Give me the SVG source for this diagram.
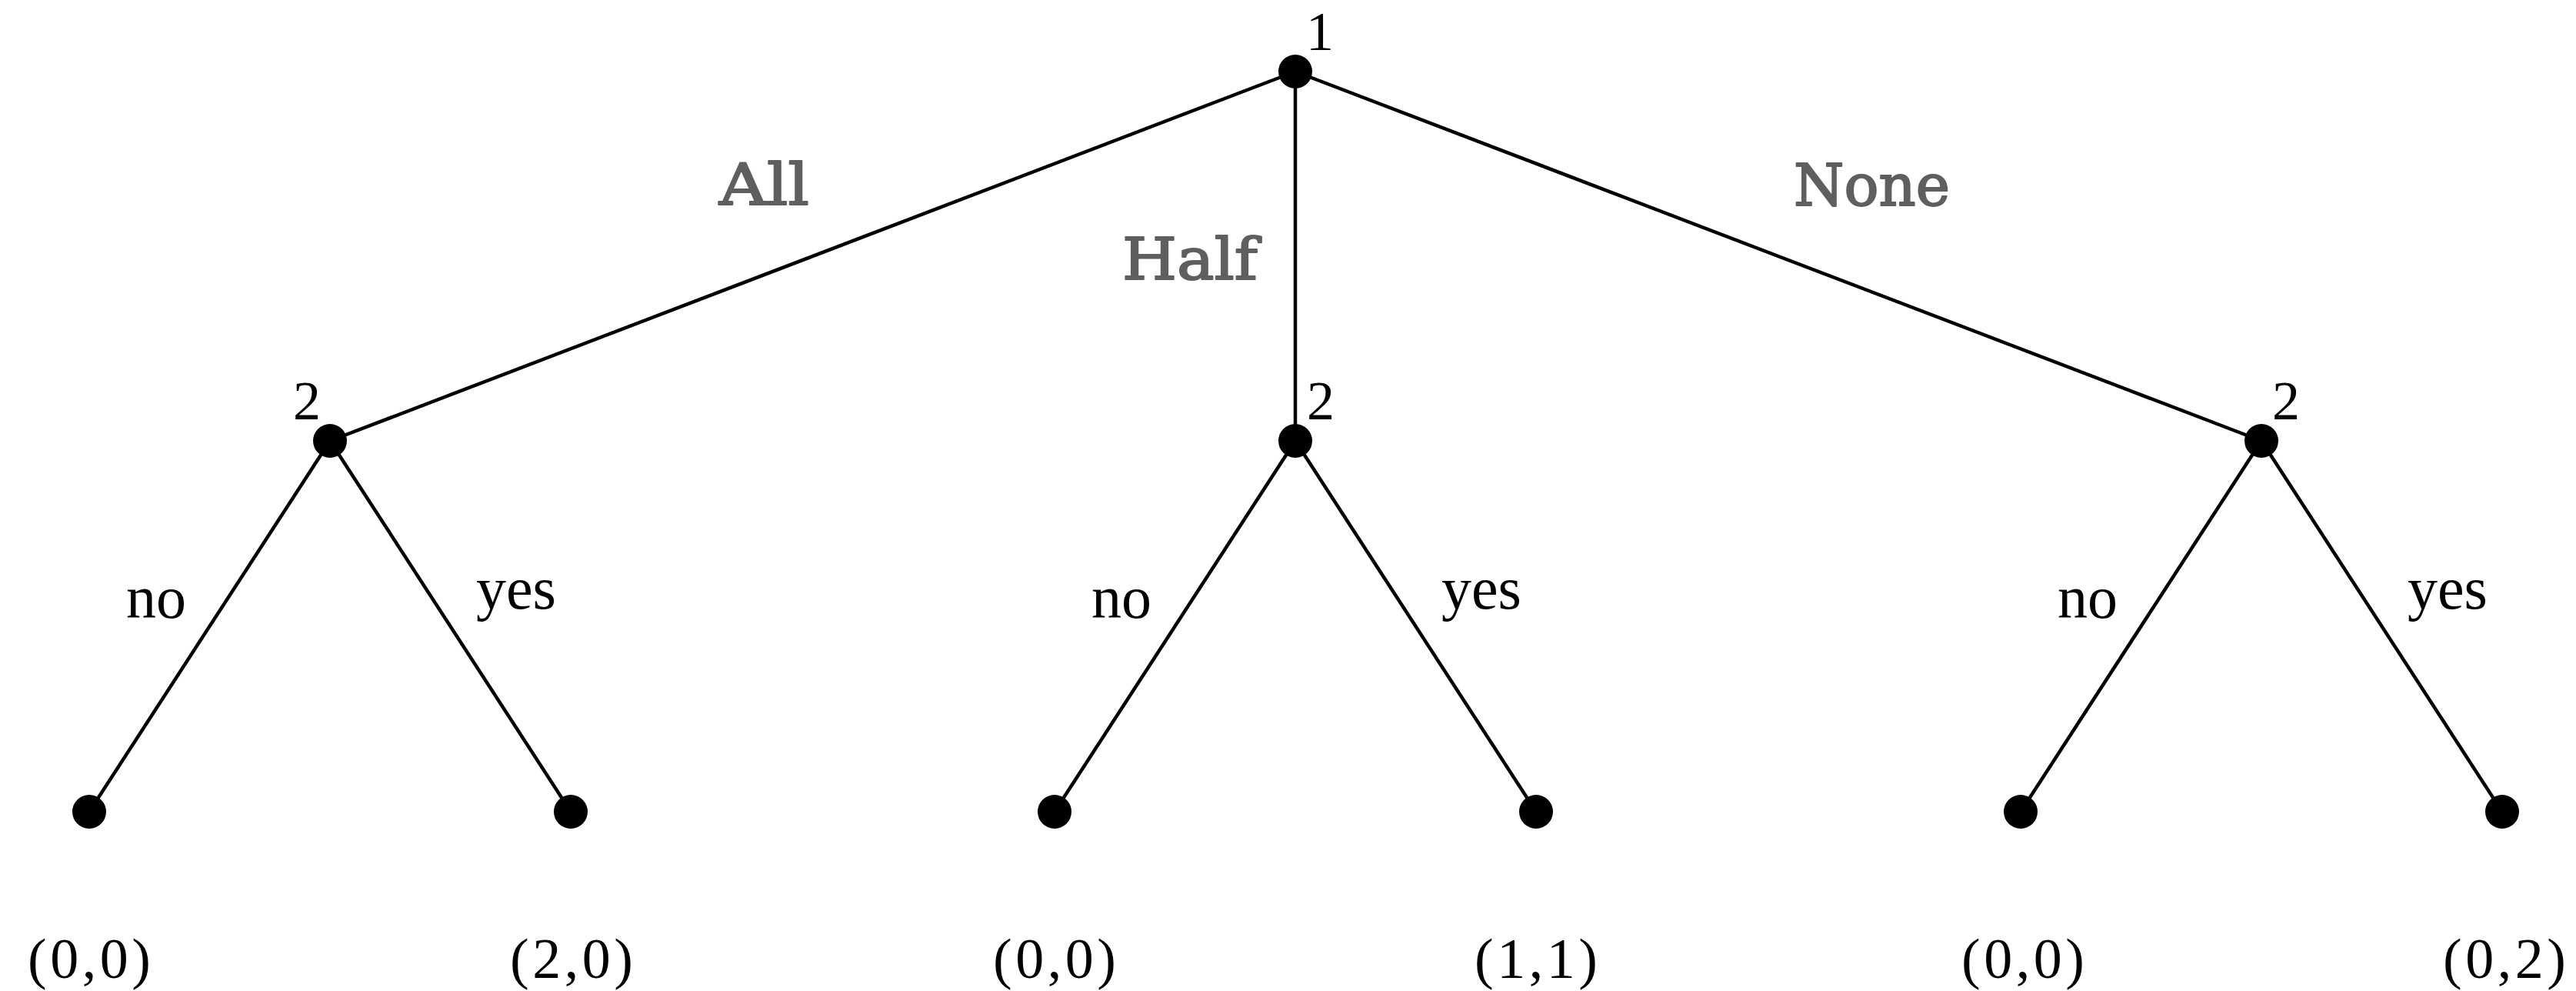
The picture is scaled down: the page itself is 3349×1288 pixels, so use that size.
<svg xmlns="http://www.w3.org/2000/svg" width="3349" height="1288" viewBox="0 0 3349 1288">
<style>
.e{stroke:#000;stroke-width:4.5;fill:none}
.n{fill:#000}
.t{font-family:"Liberation Serif",serif;font-size:72px;fill:#000}
.b{font-family:"Liberation Serif",serif;font-size:78px;fill:#000}
.g{font-family:"DejaVu Serif",serif;font-size:74px;fill:#5f5f5f;stroke:#5f5f5f;stroke-width:2;stroke-linejoin:round}
.p{font-family:"Liberation Serif",serif;font-size:74px;fill:#000;text-anchor:middle}
</style>
<rect width="3349" height="1288" fill="#fff"/>
<g id="connectors">
<line class="e" x1="1684" y1="93" x2="429" y2="573"/>
<line class="e" x1="1684" y1="93" x2="1684" y2="573"/>
<line class="e" x1="1684" y1="93" x2="2940" y2="573"/>
<line class="e" x1="429" y1="573" x2="116" y2="1055"/>
<line class="e" x1="429" y1="573" x2="742" y2="1055"/>
<line class="e" x1="1684" y1="573" x2="1371" y2="1055"/>
<line class="e" x1="1684" y1="573" x2="1997" y2="1055"/>
<line class="e" x1="2940" y1="573" x2="2627" y2="1055"/>
<line class="e" x1="2940" y1="573" x2="3253" y2="1055"/>
<text class="g" x="935" y="266" textLength="117" lengthAdjust="spacingAndGlyphs">All</text>
<text class="g" x="1459" y="363" textLength="176" lengthAdjust="spacingAndGlyphs">Half</text>
<text class="g" x="2332" y="267" textLength="203" lengthAdjust="spacingAndGlyphs">None</text>
<text class="b" x="164" y="803">no</text>
<text class="b" x="619" y="791">yes</text>
<text class="b" x="1419" y="803">no</text>
<text class="b" x="1874" y="791">yes</text>
<text class="b" x="2675" y="803">no</text>
<text class="b" x="3130" y="791">yes</text>
</g>
<g id="root">
<circle class="n" cx="1684" cy="93" r="22"/>
<text class="t" x="1698" y="65">1</text>
</g>
<g id="p2-all">
<circle class="n" cx="429" cy="573" r="22"/>
<text class="t" x="399" y="545" text-anchor="middle">2</text>
</g>
<g id="p2-half">
<circle class="n" cx="1684" cy="573" r="22"/>
<text class="t" x="1717" y="545" text-anchor="middle">2</text>
</g>
<g id="p2-none">
<circle class="n" cx="2940" cy="573" r="22"/>
<text class="t" x="2972" y="545" text-anchor="middle">2</text>
</g>
<g id="leaf1">
<circle class="n" cx="116" cy="1055" r="22"/>
<text class="p" x="116" y="1271" textLength="160" lengthAdjust="spacing">(0,0)</text>
</g>
<g id="leaf2">
<circle class="n" cx="742" cy="1055" r="22"/>
<text class="p" x="743" y="1271" textLength="160" lengthAdjust="spacing">(2,0)</text>
</g>
<g id="leaf3">
<circle class="n" cx="1371" cy="1055" r="22"/>
<text class="p" x="1371" y="1271" textLength="160" lengthAdjust="spacing">(0,0)</text>
</g>
<g id="leaf4">
<circle class="n" cx="1997" cy="1055" r="22"/>
<text class="p" x="1997" y="1271" textLength="160" lengthAdjust="spacing">(1,1)</text>
</g>
<g id="leaf5">
<circle class="n" cx="2627" cy="1055" r="22"/>
<text class="p" x="2630" y="1271" textLength="160" lengthAdjust="spacing">(0,0)</text>
</g>
<g id="leaf6">
<circle class="n" cx="3253" cy="1055" r="22"/>
<text class="p" x="3256" y="1271" textLength="160" lengthAdjust="spacing">(0,2)</text>
</g>
</svg>
